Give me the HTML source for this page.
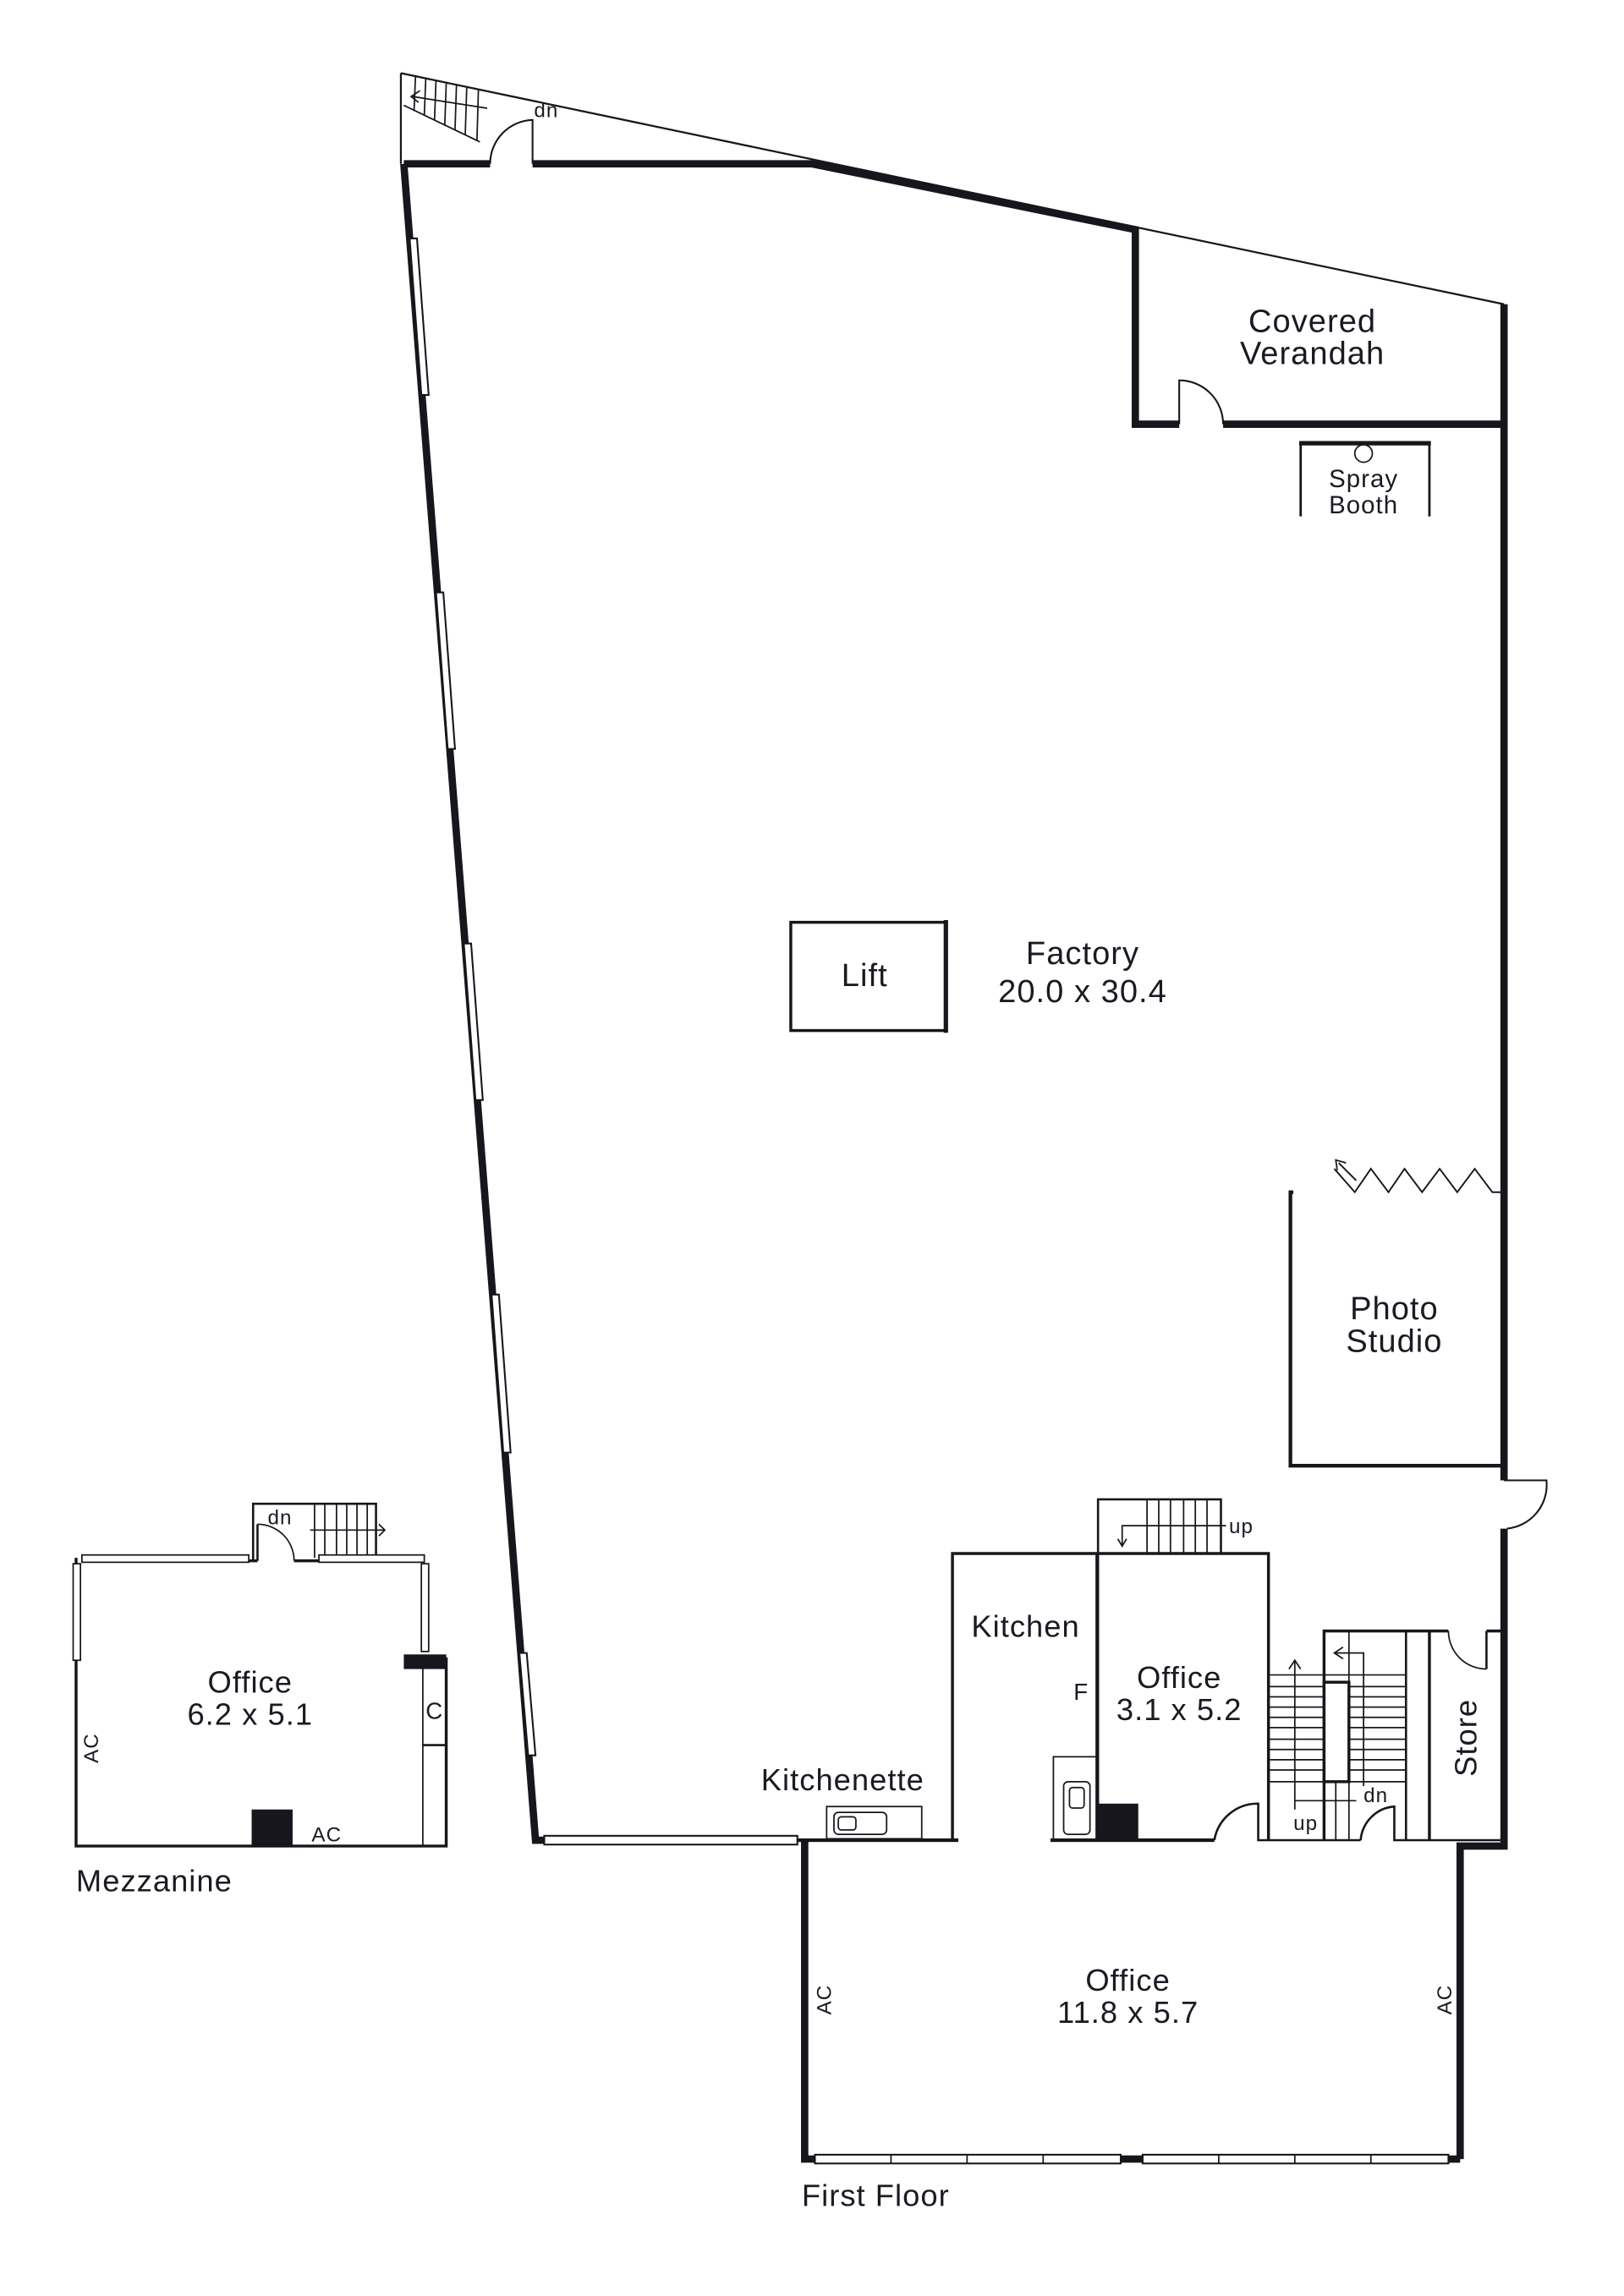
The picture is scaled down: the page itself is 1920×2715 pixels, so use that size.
<!DOCTYPE html>
<html><head><meta charset="utf-8"><style>
html,body{margin:0;padding:0;background:#fff}
svg{display:block}
text{font-family:"Liberation Sans",sans-serif;fill:#1a1a22;letter-spacing:0.6px}
</style></head><body>
<svg width="1920" height="2715" viewBox="0 0 1110 1569.6" preserveAspectRatio="none" xmlns="http://www.w3.org/2000/svg">
<rect x="0" y="0" width="1110" height="1570" fill="#fff"/>
<g stroke="#16161c" fill="none" stroke-linecap="butt">
<!-- top triangle thin -->
<line x1="274" y1="50" x2="1028" y2="208" stroke-width="1.3"/>
<line x1="274" y1="50" x2="274" y2="112" stroke-width="1.3"/>
<!-- top stairs -->
<g stroke-width="1">
<line x1="276" y1="72" x2="328" y2="97"/>
<line x1="284" y1="52" x2="283" y2="76"/><line x1="291" y1="54" x2="290" y2="79"/><line x1="298" y1="55" x2="297" y2="82"/><line x1="305" y1="57" x2="304" y2="86"/><line x1="312" y1="58" x2="311" y2="89"/><line x1="319" y1="60" x2="318" y2="92"/><line x1="327" y1="61" x2="326" y2="96"/>
<line x1="282" y1="66" x2="333" y2="74"/><path d="M287,62 L281,66 L286,70"/>
</g>
<!-- top door -->
<path d="M335,112 A30,30 0 0 1 364,82 L364,112" stroke-width="1.2"/>
<!-- thick walls -->
<g stroke-width="5">
<polyline points="276,112 335,112"/>
<polyline points="364,112 555,112 776,157 776,290 806,290"/>
<polyline points="836,290 1028,290"/>
<polyline points="1028,208 1028,1012"/>
<polyline points="1028,1045 1028,1262 998,1262 998,1476"/>
<polyline points="276,112 366,1258 372,1258"/>
<polyline points="550,1258 550,1476 557,1476"/>
<polyline points="990,1476 998,1476"/>
<polyline points="766,1476 781,1476"/>
</g>
<!-- verandah door -->
<path d="M806,290 L806,260 A30,30 0 0 1 836,290" stroke-width="1.2"/>
<!-- left wall windows -->
<g stroke-width="1.2" fill="#fff">
<polygon points="280,163 285,163 293,270 288,270"/>
<polygon points="298,405 303,405 311,512 306,512"/>
<polygon points="317,645 322,645 330,752 325,752"/>
<polygon points="336,885 341,885 349,993 344,993"/>
<polygon points="355,1130 360,1130 366,1200 361,1200"/>
<rect x="372" y="1255" width="173" height="6"/>
<rect x="557" y="1473" width="209" height="6"/>
<rect x="781" y="1473" width="209" height="6"/>
</g>
<g stroke-width="1"><line x1="609" y1="1473" x2="609" y2="1479"/><line x1="661" y1="1473" x2="661" y2="1479"/><line x1="713" y1="1473" x2="713" y2="1479"/><line x1="833" y1="1473" x2="833" y2="1479"/><line x1="885" y1="1473" x2="885" y2="1479"/><line x1="937" y1="1473" x2="937" y2="1479"/></g>
<!-- spray booth -->
<line x1="888" y1="303" x2="978" y2="303" stroke-width="3"/>
<line x1="889" y1="303" x2="889" y2="353" stroke-width="1.6"/>
<line x1="977" y1="303" x2="977" y2="353" stroke-width="1.6"/>
<circle cx="932" cy="310" r="6" stroke-width="1"/>
<!-- lift -->
<rect x="540.5" y="630.5" width="106" height="74" stroke-width="2"/>
<line x1="646.5" y1="629" x2="646.5" y2="706" stroke-width="3"/>
<!-- photo studio -->
<polyline points="884,815 882,815 882,1002 1028,1002" stroke-width="2.5"/>
<polyline points="1026,815 1020,815 1008,799 996,815 984,799 972,815 960,799 949,815 937,799 926,815 912,799" stroke-width="1.1"/>
<line x1="927" y1="807" x2="915" y2="795" stroke-width="1.1"/>
<path d="M914,800 L913,793 L920,795" stroke-width="1"/>
<!-- outside door right -->
<path d="M1028,1012 L1057,1012 A30,30 0 0 1 1030,1045" stroke-width="1.2"/>
<!-- up stairs kitchen/office -->
<rect x="750.5" y="1025" width="84" height="37" stroke-width="1.5"/>
<g stroke-width="1"><line x1="784" y1="1025" x2="784" y2="1062"/><line x1="792" y1="1025" x2="792" y2="1062"/><line x1="800" y1="1025" x2="800" y2="1062"/><line x1="809" y1="1025" x2="809" y2="1062"/><line x1="817" y1="1025" x2="817" y2="1062"/><line x1="825" y1="1025" x2="825" y2="1062"/>
<polyline points="838,1043 767,1043 767,1056"/><path d="M764,1052 L767,1057 L770,1052"/></g>
<polyline points="651,1258 651,1062 867,1062 867,1258" stroke-width="2"/>
<line x1="750" y1="1062" x2="750" y2="1258" stroke-width="2.5"/>
<!-- kitchen fridge/sink -->
<polyline points="750,1201 720,1201 720,1257" stroke-width="1"/>
<rect x="727" y="1218" width="18" height="36" rx="3" stroke-width="1"/>
<rect x="731" y="1222" width="10" height="14" rx="2" stroke-width="1"/>
<rect x="751" y="1233" width="27" height="25" fill="#16161c" stroke="none"/>
<!-- kitchenette counter -->
<rect x="565" y="1235" width="65" height="22" stroke-width="1"/>
<rect x="570" y="1239" width="36" height="15" rx="3" stroke-width="1"/>
<rect x="573" y="1242" width="12" height="9" rx="2" stroke-width="1"/>
<!-- bottom line -->
<polyline points="545,1258 655,1258" stroke-width="2.5"/>
<polyline points="718,1258 830,1258" stroke-width="2.5"/>
<path d="M830,1258 A30,30 0 0 1 860,1233 L860,1258 L930,1258" stroke-width="1.5"/>
<path d="M930,1258 A25,25 0 0 1 953,1235 L953,1258 L1028,1258" stroke-width="1.5"/>
<!-- stair well -->
<polyline points="867,1258 867,1145" stroke-width="1"/>
<polyline points="905,1258 905,1115 990,1115" stroke-width="2"/>
<line x1="1016" y1="1115" x2="1028" y2="1115" stroke-width="2"/>
<line x1="1016" y1="1115" x2="1016" y2="1141" stroke-width="1.5"/>
<path d="M990,1115 A26,26 0 0 0 1016,1141" stroke-width="1"/>
<line x1="961" y1="1115" x2="961" y2="1258" stroke-width="1.5"/>
<line x1="977" y1="1115" x2="977" y2="1258" stroke-width="2"/>
<g stroke-width="1">
<line x1="867" y1="1145" x2="961" y2="1145"/><line x1="867" y1="1153" x2="961" y2="1153"/><line x1="867" y1="1160" x2="961" y2="1160"/><line x1="867" y1="1167" x2="961" y2="1167"/><line x1="867" y1="1174" x2="961" y2="1174"/><line x1="867" y1="1181" x2="961" y2="1181"/><line x1="867" y1="1189" x2="961" y2="1189"/><line x1="867" y1="1196" x2="961" y2="1196"/><line x1="867" y1="1203" x2="961" y2="1203"/><line x1="867" y1="1210" x2="961" y2="1210"/><line x1="867" y1="1218" x2="961" y2="1218"/>
<line x1="922" y1="1115" x2="922" y2="1150"/><line x1="913" y1="1218" x2="913" y2="1258"/><line x1="922" y1="1218" x2="922" y2="1258"/>
<polyline points="885,1237 885,1135"/><path d="M881,1141 L885,1135 L889,1141"/>
<polyline points="885,1231 927,1231"/>
<polyline points="932,1221 932,1130 912,1130"/><path d="M918,1126 L912,1130 L918,1134"/>
</g>
<rect x="905" y="1150" width="17" height="68" stroke-width="2" fill="#fff"/>
<!-- mezzanine -->
<polyline points="52,1065 52,1262 305,1262 305,1133" stroke-width="2"/>
<line x1="289" y1="1133" x2="289" y2="1262" stroke-width="1"/>
<rect x="276" y="1131" width="29" height="10" fill="#16161c" stroke="none"/>
<line x1="289" y1="1193" x2="305" y2="1193" stroke-width="1.5"/>
<rect x="172" y="1237" width="28" height="25" fill="#16161c" stroke="none"/>
<polyline points="173,1067 173,1028 257,1028 257,1065" stroke-width="1.5"/>
<polyline points="176,1067 176,1042" stroke-width="1.5"/>
<path d="M176,1042 A25,25 0 0 1 201,1067" stroke-width="1"/>
<g stroke-width="1"><line x1="215" y1="1028" x2="215" y2="1065"/><line x1="222" y1="1028" x2="222" y2="1065"/><line x1="230" y1="1028" x2="230" y2="1065"/><line x1="237" y1="1028" x2="237" y2="1065"/><line x1="244" y1="1028" x2="244" y2="1065"/><line x1="251" y1="1028" x2="251" y2="1065"/>
<line x1="212" y1="1046" x2="263" y2="1046"/><path d="M259,1042 L263,1046 L259,1050"/></g>
<g stroke-width="1" fill="#fff">
<rect x="56" y="1063" width="114" height="5"/>
<rect x="218" y="1063" width="72" height="5"/>
<rect x="50" y="1069" width="5" height="66"/>
<rect x="288" y="1069" width="5" height="60"/>
</g>
<line x1="170" y1="1067" x2="176" y2="1067" stroke-width="2"/>
<line x1="201" y1="1067" x2="218" y2="1067" stroke-width="2"/>
</g>
<!-- texts -->
<text x="365" y="80" font-size="14">dn</text>
<text x="897" y="227" font-size="22" text-anchor="middle">Covered</text>
<text x="897" y="249" font-size="22" text-anchor="middle">Verandah</text>
<text x="932" y="333" font-size="17" text-anchor="middle">Spray</text>
<text x="932" y="351" font-size="17" text-anchor="middle">Booth</text>
<text x="591" y="674" font-size="22" text-anchor="middle">Lift</text>
<text x="740" y="659" font-size="22" text-anchor="middle">Factory</text>
<text x="740" y="685" font-size="22" text-anchor="middle">20.0 x 30.4</text>
<text x="953" y="902" font-size="22" text-anchor="middle">Photo</text>
<text x="953" y="924" font-size="22" text-anchor="middle">Studio</text>
<text x="840" y="1048" font-size="14">up</text>
<text x="701" y="1119" font-size="21" text-anchor="middle">Kitchen</text>
<text x="806" y="1154" font-size="21" text-anchor="middle">Office</text>
<text x="806" y="1176" font-size="21" text-anchor="middle">3.1 x 5.2</text>
<text x="739" y="1162" font-size="16" text-anchor="middle">F</text>
<text x="576" y="1224" font-size="21" text-anchor="middle">Kitchenette</text>
<text x="884" y="1251" font-size="14">up</text>
<text x="932" y="1232" font-size="14">dn</text>
<text transform="translate(1009,1188) rotate(-90)" font-size="21" text-anchor="middle">Store</text>
<text x="771" y="1361" font-size="21" text-anchor="middle">Office</text>
<text x="771" y="1383" font-size="21" text-anchor="middle">11.8 x 5.7</text>
<text transform="translate(568,1367) rotate(-90)" font-size="14" text-anchor="middle">AC</text>
<text transform="translate(992,1367) rotate(-90)" font-size="14" text-anchor="middle">AC</text>
<text x="548" y="1508" font-size="21">First Floor</text>
<text x="183" y="1042" font-size="14">dn</text>
<text x="171" y="1157" font-size="21" text-anchor="middle">Office</text>
<text x="171" y="1179" font-size="21" text-anchor="middle">6.2 x 5.1</text>
<text x="297" y="1175" font-size="16" text-anchor="middle">C</text>
<text transform="translate(67,1195) rotate(-90)" font-size="14" text-anchor="middle">AC</text>
<text x="213" y="1259" font-size="14">AC</text>
<text x="52" y="1293" font-size="21">Mezzanine</text>
</svg>
</body></html>
